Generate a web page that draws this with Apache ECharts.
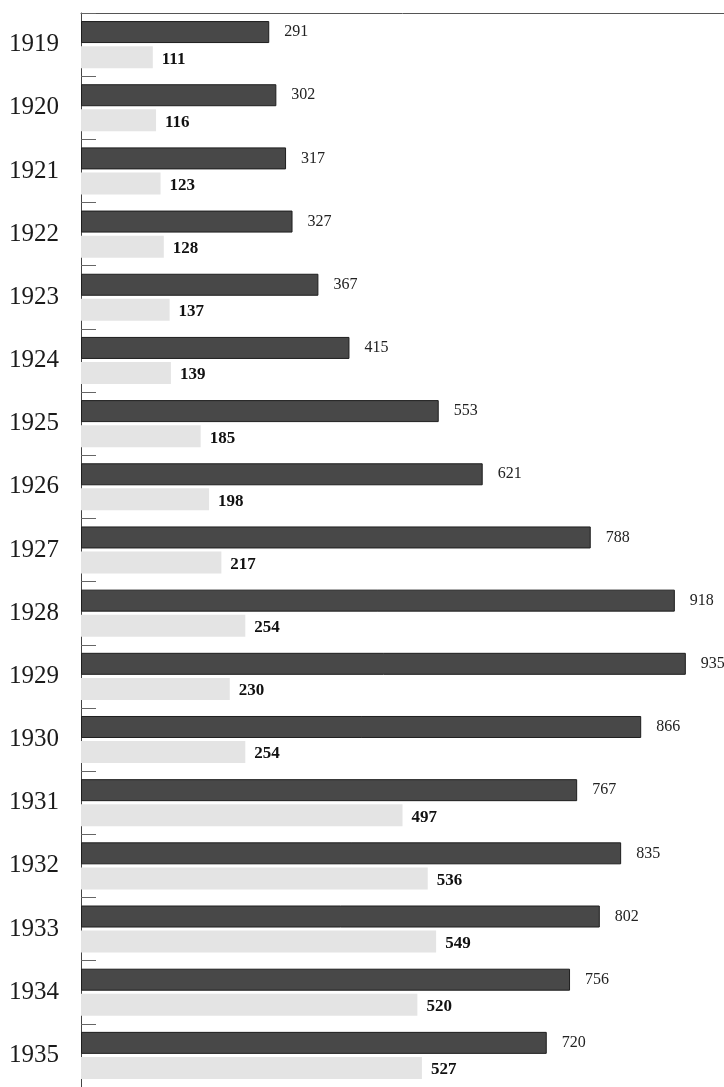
<!DOCTYPE html>
<html>
<head>
<meta charset="utf-8">
<script src="https://cdn.jsdelivr.net/npm/echarts@6/dist/echarts.min.js"></script>
<style>
  html, body { margin: 0; padding: 0; background: #fff; }
  #main { width: 724px; height: 1087px; }
</style>
</head>
<body>
<div id="main"></div>
<script>
// 年份（从上到下）
var years = ['1919', '1920', '1921', '1922', '1923', '1924', '1925', '1926', '1927',
  '1928', '1929', '1930', '1931', '1932', '1933', '1934', '1935'];
// 深色柱
var darkValues = [291, 302, 317, 327, 367, 415, 553, 621, 788, 918, 935, 866, 767, 835, 802, 756, 720];
// 浅色柱
var lightValues = [111, 116, 123, 128, 137, 139, 185, 198, 217, 254, 230, 254, 497, 536, 549, 520, 527];

var serif = '"Liberation Serif", "DejaVu Serif", serif';

var myChart = echarts.init(document.getElementById('main'));
var option = {
  animation: false,
  grid: { left: 81, right: 0, top: 13, bottom: -1 },
  xAxis: {
    type: 'value',
    position: 'top',
    min: 0,
    max: 994,
    axisLine: { show: true, lineStyle: { color: '#555', width: 1 } },
    axisTick: { show: false },
    axisLabel: { show: false },
    splitLine: { show: false }
  },
  yAxis: {
    type: 'category',
    inverse: true,
    data: years,
    axisLine: { show: true, lineStyle: { color: '#444', width: 1 } },
    axisTick: { show: true, inside: true, length: 15, lineStyle: { color: '#666' } },
    axisLabel: {
      margin: 22,
      fontFamily: serif,
      fontSize: 25,
      color: '#1a1a1a'
    }
  },
  series: [
    {
      name: 'dark',
      type: 'bar',
      data: darkValues,
      barWidth: 22,
      barGap: '14%',
      itemStyle: { color: '#484848', borderColor: '#1e1e1e', borderWidth: 1 },
      label: {
        show: true,
        position: 'right',
        distance: 15,
        fontFamily: serif,
        fontSize: 16,
        color: '#222'
      }
    },
    {
      name: 'light',
      type: 'bar',
      data: lightValues,
      barWidth: 22,
      itemStyle: { color: '#e4e4e4' },
      label: {
        show: true,
        position: 'right',
        distance: 9,
        offset: [0, 2],
        fontFamily: serif,
        fontSize: 17,
        fontWeight: 'bold',
        color: '#111'
      }
    }
  ]
};
myChart.setOption(option);
</script>
</body>
</html>
